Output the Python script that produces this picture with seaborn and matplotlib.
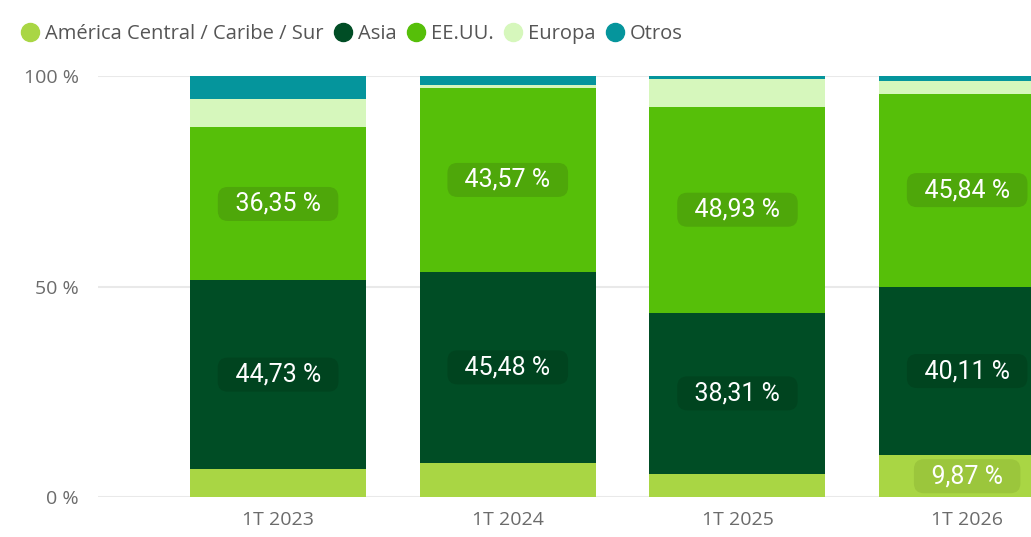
import matplotlib.pyplot as plt
import seaborn as sns
import pandas as pd
import numpy as np
from matplotlib.lines import Line2D

# datos (porcentaje del total por trimestre)
periodos = ['1T 2023', '1T 2024', '1T 2025', '1T 2026']
series = ['América Central / Caribe / Sur', 'Asia', 'EE.UU.', 'Europa', 'Otros']
america = [6.70, 8.05, 5.46, 9.87]
asia = [44.73, 45.48, 38.31, 40.11]
eeuu = [36.35, 43.57, 48.93, 45.84]
europa = [6.70, 0.70, 6.60, 3.00]
otros = [5.52, 2.20, 0.70, 1.18]

colores = ['#a9d644', '#004d25', '#56bf09', '#d6f7bc', '#05959c']
colores_caja = ['#9bc63c', '#00441f', '#4ea70a', None, None]

sns.set_style('white')
plt.rcParams['font.family'] = ['Open Sans', 'DejaVu Sans']

fig = plt.figure(figsize=(10.31, 5.37), dpi=100)
ax = fig.add_axes([98 / 1031, 40 / 537, 984 / 1031, 421 / 537])

df = pd.DataFrame({'periodo': periodos})
abajo = np.zeros(len(periodos))
for nombre, vals, col, caja in zip(series, [america, asia, eeuu, europa, otros], colores, colores_caja):
    df['v'] = vals
    sns.barplot(data=df, x='periodo', y='v', color=col, bottom=abajo, width=0.766,
                ax=ax, saturation=1, linewidth=0, errorbar=None)
    # etiquetas solo en los segmentos grandes
    for i, v in enumerate(vals):
        if v >= 9 and caja is not None:
            txt = '  ' + f'{v:.2f}'.replace('.', ',') + ' %  '
            ax.text(i, abajo[i] + v / 2, txt, ha='center', va='center', color='white',
                    fontsize=18, family=['Roboto', 'DejaVu Sans'],
                    bbox=dict(boxstyle='round,pad=0.2,rounding_size=0.4', fc=caja, ec='none'))
    abajo = abajo + np.array(vals)

ax.set_xlim(-0.784, 3.5)
ax.set_ylim(0, 100)
ax.set_yticks([0, 50, 100])
ax.set_yticklabels(['0 %', '50 %', '100 %'])
ax.yaxis.grid(True, color='#e9e9e9', linewidth=1.5)
ax.set_axisbelow(True)
ax.tick_params(axis='both', length=0, labelsize=14, labelcolor='#6b6b6b', pad=10)
ax.tick_params(axis='y', pad=14)
ax.set_xlabel('')
ax.set_ylabel('')
sns.despine(ax=ax, left=True, bottom=True, right=True, top=True)

handles = [Line2D([], [], marker='o', linestyle='', markersize=13, color=c) for c in colores]
fig.legend(handles, series, loc='upper left', bbox_to_anchor=(0.0, 0.993), ncol=5,
           frameon=False, handlelength=1.0, handletextpad=0.25, columnspacing=0.45,
           fontsize=14.5, labelcolor='#555555', borderaxespad=0.6)

fig.savefig('out.png', dpi=100)
